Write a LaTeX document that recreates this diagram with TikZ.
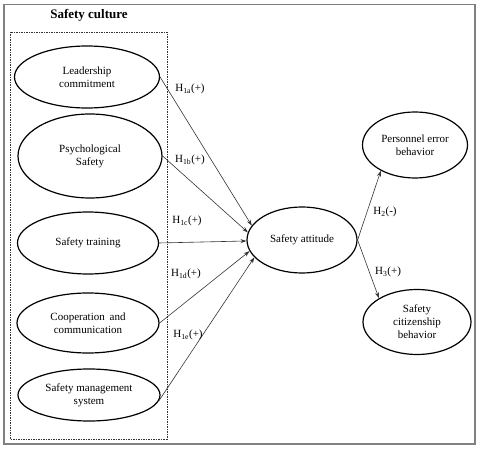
\documentclass[tikz,border=0pt]{standalone}
\usepackage{fontspec}
\setmainfont{Liberation Serif}
\usetikzlibrary{shapes.geometric,arrows.meta}
\begin{document}
\begin{tikzpicture}[x=1pt,y=-1pt,
  every node/.style={font=\fontsize{11}{13}\selectfont},
  oval/.style={ellipse,draw,line width=1.2pt,inner sep=0pt,align=center},
  link/.style={draw=black!80,line width=0.6pt,-{Stealth[length=6pt,width=4pt]}},
  hlab/.style={inner sep=0pt}]
\useasboundingbox (0,0) rectangle (480,449);
\draw[gray,line width=1.6pt] (4,4.5) rectangle (475,444);
\draw[dash pattern=on 1.5pt off 1pt,line width=0.5pt,black!80] (10,32) rectangle (167,439);
\node[font=\fontsize{13}{15}\selectfont\bfseries] (title) at (89,15) {Safety culture};
\node[oval,minimum width=145pt,minimum height=62pt] (lead) at (87,77) {Leadership\\commitment};
\node[oval,minimum width=144pt,minimum height=84pt] (psy) at (90,156) {Psychological\\Safety};
\node[oval,minimum width=141pt,minimum height=62pt] (tr) at (88,243) {Safety training};
\node[oval,minimum width=142pt,minimum height=60pt] (coop) at (88,323) {Cooperation\;\,and\\communication};
\node[oval,minimum width=142pt,minimum height=52pt] (sm) at (89,395) {Safety management\\system};
\node[oval,minimum width=110pt,minimum height=66pt] (att) at (302,240) {Safety attitude};
\node[oval,minimum width=105pt,minimum height=66pt] (pe) at (415,145) {Personnel error\\behavior};
\node[oval,minimum width=108pt,minimum height=65pt] (sc) at (417,322) {Safety\\citizenship\\behavior};
\draw[link] (lead.east) -- (att.164);
\draw[link] (psy.east) -- (att.172);
\draw[link] (tr.east) -- (att.181);
\draw[link] (coop.east) -- (att.192);
\draw[link] (sm.-5) -- (att.200);
\draw[link] (att.east) -- (pe.217);
\draw[link] (att.east) -- (sc.148);
\node[hlab] (h1a) at (190,89) {H\textsubscript{1a}(+)};
\node[hlab] (h1b) at (190,160) {H\textsubscript{1b}(+)};
\node[hlab] (h1c) at (187,221) {H\textsubscript{1c}(+)};
\node[hlab] (h1d) at (186,274) {H\textsubscript{1d}(+)};
\node[hlab] (h1e) at (188,335) {H\textsubscript{1e}(+)};
\node[hlab] (h2) at (385,212) {H\textsubscript{2}(-)};
\node[hlab] (h3) at (388,272) {H\textsubscript{3}(+)};
\end{tikzpicture}
\end{document}
